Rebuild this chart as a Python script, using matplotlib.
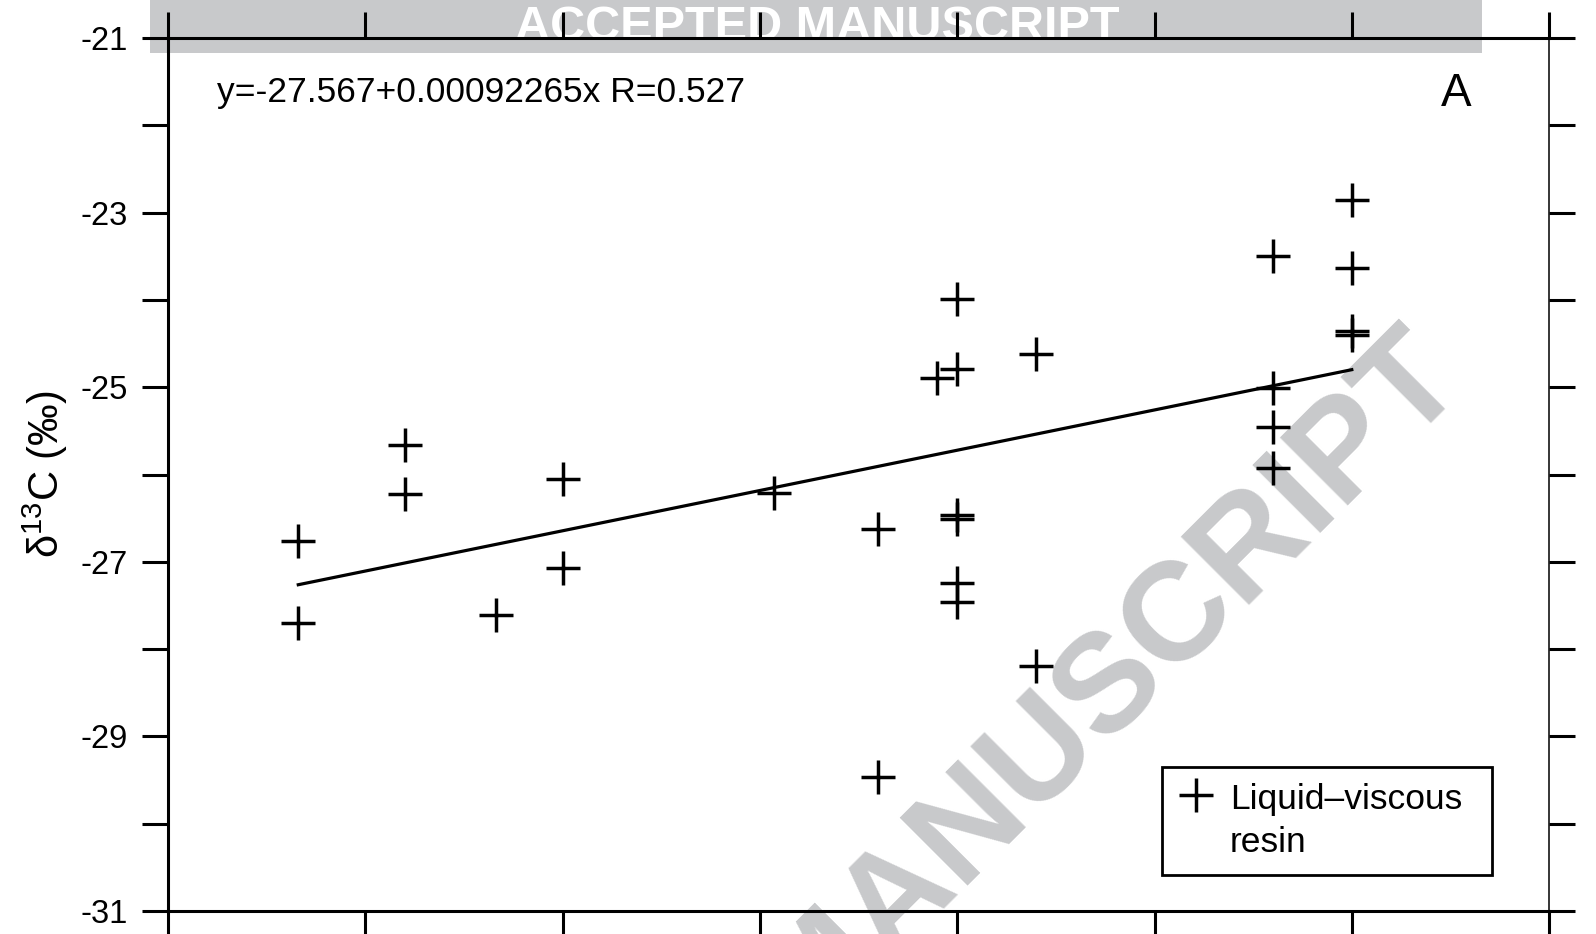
import numpy as np
import matplotlib
matplotlib.use('Agg')
import matplotlib.pyplot as plt
from matplotlib.patches import Rectangle

plt.rcParams['font.family'] = ['Liberation Sans', 'DejaVu Sans']
plt.rcParams['axes.unicode_minus'] = False
plt.rcParams['mathtext.fontset'] = 'custom'
plt.rcParams['mathtext.rm'] = 'Liberation Sans'

# values
depth = [330, 330, 600, 600, 830, 1000, 1000, 1535, 1800, 1800, 1950,
         2000, 2000, 2000, 2000, 2000, 2000, 2200, 2200,
         2800, 2800, 2800, 2800, 3000, 3000, 3000, 3000]
d13c = [-26.76, -27.70, -25.66, -26.22, -27.61, -26.05, -27.07, -26.21, -26.62, -29.46, -24.89,
        -23.99, -24.79, -26.46, -26.51, -27.24, -27.46, -24.62, -28.19,
        -23.50, -25.01, -25.46, -25.93, -22.85, -23.64, -24.36, -24.40]
intercept = -27.567
slope = 0.00092265
r_value = 0.527
series_label = 'Liquid\u2013viscous\nresin'
x_ticks = [0, 500, 1000, 1500, 2000, 2500, 3000, 3500]
y_major = [-31, -29, -27, -25, -23, -21]
y_minor = [-30, -28, -26, -24, -22]

fig = plt.figure(figsize=(15.96, 9.34), dpi=100)
ax = fig.add_axes([0.1053, 0.0246, 0.8653, 0.9347])
ax.patch.set_alpha(0)

# watermark banner and diagonal stamp (behind the axes)
fig.patches.append(Rectangle((0.094, 0.9433), 0.8346, 0.07, transform=fig.transFigure,
                             facecolor='#c8c9cb', edgecolor='none', zorder=-2))
fig.text(0.512, 0.957, 'ACCEPTED MANUSCRIPT', ha='center', va='baseline', color='white',
         fontsize=35, fontweight='bold', zorder=-1)
fig.text(0.920, 0.588, 'ACCEPTED MANUSCRIPT', rotation=45, rotation_mode='anchor',
         ha='right', va='baseline', color='#c8c9cb', fontsize=101, fontweight='bold', zorder=-1)

ax.plot(depth, d13c, linestyle='none', marker='+', ms=24.5, mew=2.5, color='k',
        label=series_label, zorder=3)
xfit = np.array([min(depth), max(depth)])
ax.plot(xfit, intercept + slope * xfit, color='k', lw=2.3, zorder=2)

ax.set_xlim(0, 3500)
ax.set_ylim(-31, -21)
ax.set_xticks(x_ticks)
ax.set_yticks(y_major)
ax.set_yticks(y_minor, minor=True)
ax.set_yticklabels([str(v) for v in y_major])
ax.tick_params(axis='both', which='both', direction='out', length=19, width=2.2,
               top=True, right=True, labelbottom=False, labelsize=23.5, pad=10)
for s in ['left', 'top', 'bottom']:
    ax.spines[s].set_linewidth(2.2)
ax.spines['right'].set_linewidth(1.1)

ax.set_ylabel('\u03b4$^{\\mathregular{13}}$C (\u2030)', fontsize=30)
ax.yaxis.set_label_coords(-0.071, 0.5)

ax.text(0.0355, 0.927, 'y=%.3f+%.8fx R=%.3f' % (intercept, slope, r_value),
        transform=ax.transAxes, fontsize=25.5, va='baseline', ha='left')
ax.text(0.9435, 0.922, 'A', transform=ax.transAxes, fontsize=33, va='baseline', ha='right')

leg = ax.legend(loc='lower left', bbox_to_anchor=(0.720, 0.041, 0.239, 0.125), mode='expand',
                borderaxespad=0, fancybox=False, edgecolor='k', framealpha=1,
                handlelength=1.0, handletextpad=0.45, borderpad=0.45, numpoints=1,
                fontsize=25.5)
leg.get_frame().set_linewidth(2)
for t in leg.get_texts():
    t.set_linespacing(1.4)
# put the marker beside the first line of the label
for col in leg._legend_handle_box.get_children():
    for item in col.get_children():
        item.align = 'top'

fig.savefig('out.png', dpi=100)
